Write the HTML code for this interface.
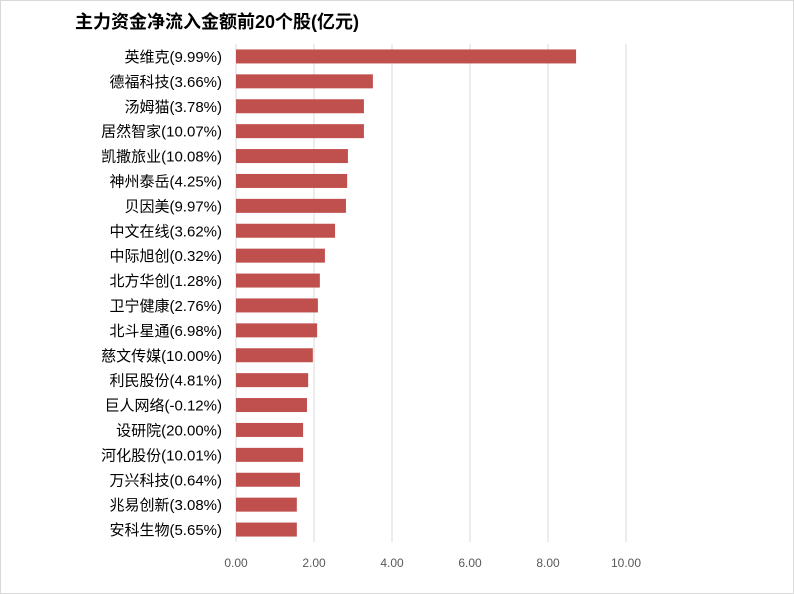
<!DOCTYPE html>
<html><head><meta charset="utf-8"><style>
body{margin:0;background:#fff;}
svg{display:block;font-family:"Liberation Sans","Noto Sans CJK SC",sans-serif;}
</style></head><body>
<svg id="chart" width="794" height="594">
<rect x="0.5" y="0.5" width="793" height="593" fill="#fff" stroke="#d9d9d9"/>
<text x="75" y="28" font-size="18" font-weight="bold" fill="#000">主力资金净流入金额前20个股(亿元)</text>
<g id="grid"></g><g id="bars"></g><g id="labels"></g><g id="ticks"></g>
</svg>
<script>
const categories=["英维克(9.99%)","德福科技(3.66%)","汤姆猫(3.78%)","居然智家(10.07%)","凯撒旅业(10.08%)","神州泰岳(4.25%)","贝因美(9.97%)","中文在线(3.62%)","中际旭创(0.32%)","北方华创(1.28%)","卫宁健康(2.76%)","北斗星通(6.98%)","慈文传媒(10.00%)","利民股份(4.81%)","巨人网络(-0.12%)","设研院(20.00%)","河化股份(10.01%)","万兴科技(0.64%)","兆易创新(3.08%)","安科生物(5.65%)"];
const values=[8.72,3.51,3.28,3.28,2.87,2.85,2.82,2.54,2.28,2.15,2.10,2.08,1.97,1.85,1.82,1.72,1.72,1.64,1.56,1.56];
const tickValues=[0,2,4,6,8,10];
const tickLabels=["0.00","2.00","4.00","6.00","8.00","10.00"];
const NS="http://www.w3.org/2000/svg";
const x0=236,unit=39,plotTop=44,rowH=24.9,barH=14;
const xs=v=>x0+v*unit;
const ys=i=>plotTop+i*rowH+rowH/2;
function mk(tag,attrs,parent){const e=document.createElementNS(NS,tag);for(const k in attrs)e.setAttribute(k,attrs[k]);document.getElementById(parent).appendChild(e);return e;}
tickValues.forEach((t,i)=>{
 const g=mk('line',{x1:xs(t),x2:xs(t),y1:plotTop,y2:plotTop+rowH*categories.length,stroke:'#d9d9d9','stroke-width':1},'grid');
 
 
 const tl=mk('text',{x:xs(t),y:567,'font-size':12,fill:'#595959','text-anchor':'middle'},'ticks');
 tl.textContent=tickLabels[i];
 
 
});
categories.forEach((c,i)=>{
 const b=mk('rect',{x:x0,y:ys(i)-barH/2,width:xs(values[i])-x0,height:barH,fill:'#c0504d'},'bars');
 
 
 const l=mk('text',{x:222,y:ys(i)+5.5,'font-size':15,fill:'#000','text-anchor':'end'},'labels');
 l.textContent=c;
 
 
});
</script>
</body></html>
